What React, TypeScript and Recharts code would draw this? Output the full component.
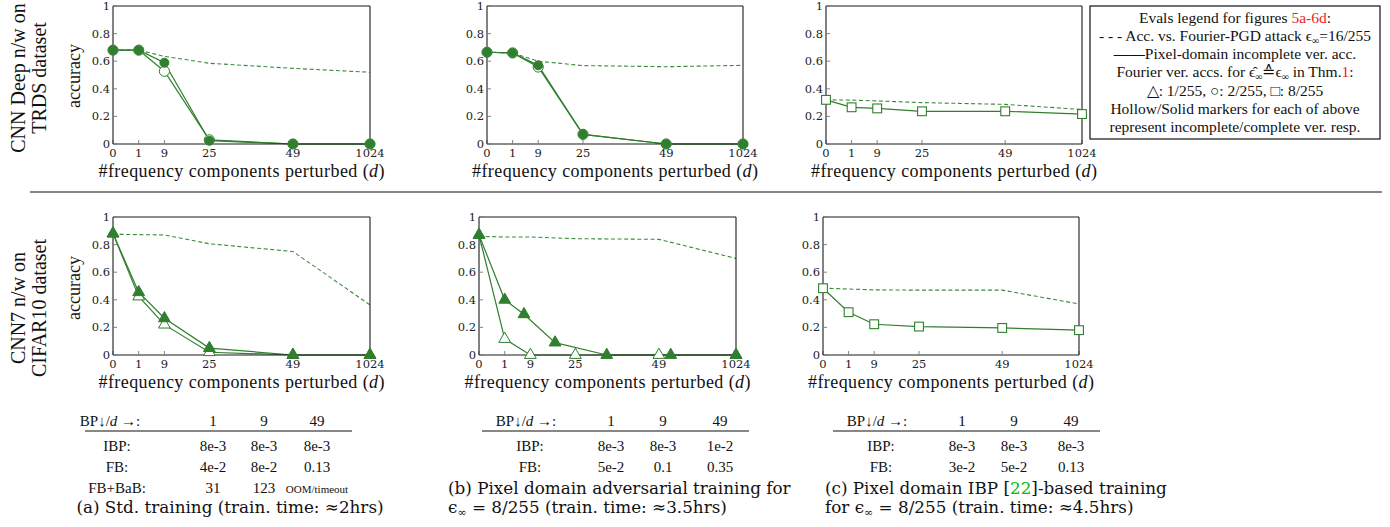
import React from 'react';
import { LineChart, Line, XAxis, YAxis } from 'recharts';

const G = '#2f7f2f';
const GD = '#3a8a3a';
const RED = '#ee1c1c';
const TIMES = "'Liberation Serif', 'Times New Roman', serif";
const CM = "'DejaVu Serif', serif";

// x-axis: number of perturbed frequency components d (tick labels) and their axis positions
const dTickLabels = ['0', '1', '9', '25', '49', '1024'];
const dPositions = [0, 1, 2, 3.75, 7, 10];
const accTicks = [0, 0.2, 0.4, 0.6, 0.8, 1];

// TRDS, CNN Deep — (a) std training
const trdsStdPgd = [0.68, 0.68, 0.635, 0.585, 0.548, 0.52];
const trdsStdHollow = [0.68, 0.68, 0.527, 0.03, 0.0, 0.0];
const trdsStdSolid = [0.68, 0.68, 0.589, 0.024, 0.0, 0.0];
// TRDS — (b) adversarial training
const trdsAdvPgd = [0.665, 0.66, 0.6, 0.568, 0.56, 0.57];
const trdsAdvHollow = [0.665, 0.66, 0.558, 0.07, 0.0, 0.0];
const trdsAdvSolid = [0.665, 0.66, 0.57, 0.07, 0.0, 0.0];
// TRDS — (c) IBP training
const trdsIbpPgd = [0.32, 0.318, 0.312, 0.3, 0.287, 0.25];
const trdsIbpSquare = [0.32, 0.266, 0.258, 0.237, 0.237, 0.217];

// CIFAR10, CNN7 — (a)
const cifarStdPgd = [0.875, 0.872, 0.87, 0.806, 0.75, 0.363];
const cifarStdHollow = [0.88, 0.424, 0.22, 0.02, 0.0, 0.0];
const cifarStdSolid = [0.88, 0.455, 0.266, 0.05, 0.0, 0.0];
// CIFAR10 — (b)
const cifarAdvPgd = [0.86, 0.855, 0.855, 0.843, 0.838, 0.7];
const cifarAdvHollow = [0.87, 0.116, 0.0, 0.0, 0.0, 0.0];
const cifarAdvSolidX = [0, 1, 1.75, 2.96, 4.97, 7.46, 10];
const cifarAdvSolid = [0.87, 0.4, 0.295, 0.09, 0.0, 0.0, 0.0];
// CIFAR10 — (c)
const cifarIbpPgd = [0.484, 0.478, 0.472, 0.47, 0.47, 0.37];
const cifarIbpSquare = [0.484, 0.31, 0.223, 0.206, 0.196, 0.18];

// tables
const tableCols = ['1', '9', '49'];
const tableA = [
  ['IBP:', '8e-3', '8e-3', '8e-3'],
  ['FB:', '4e-2', '8e-2', '0.13'],
  ['FB+BaB:', '31', '123', 'OOM/timeout'],
];
const tableB = [
  ['IBP:', '8e-3', '8e-3', '1e-2'],
  ['FB:', '5e-2', '0.1', '0.35'],
];
const tableC = [
  ['IBP:', '8e-3', '8e-3', '8e-3'],
  ['FB:', '3e-2', '5e-2', '0.13'],
];

type Pt = { x: number; y: number };
const toPts = (ys: number[], xs: number[] = dPositions): Pt[] => ys.map((y, i) => ({ x: xs[i], y }));

type Shape = 'circle' | 'triangle' | 'square';
type S = { pts: Pt[]; kind: 'dash' | 'hollow' | 'solid'; shape?: Shape };

function makeDot(shape: Shape, filled: boolean) {
  return (p: any) => {
    const { cx, cy, index } = p;
    const key = `m${shape}${filled ? 1 : 0}${index}`;
    if (cx == null || cy == null || isNaN(cx) || isNaN(cy)) return <g key={key} />;
    const fill = filled ? G : '#fff';
    if (shape === 'circle')
      return <circle key={key} cx={cx} cy={cy} r={filled ? 4.5 : 5.1} fill={fill} stroke={G} strokeWidth={1} />;
    if (shape === 'triangle') {
      const r = 6.8;
      const pts = `${cx},${cy - r} ${cx - 0.866 * r},${cy + 0.5 * r} ${cx + 0.866 * r},${cy + 0.5 * r}`;
      return <polygon key={key} points={pts} fill={fill} stroke={G} strokeWidth={1} />;
    }
    const s = 4.4;
    return <rect key={key} x={cx - s} y={cy - s} width={2 * s} height={2 * s} fill={fill} stroke={G} strokeWidth={1.1} />;
  };
}

const fmtX = (v: number) => {
  const i = dPositions.indexOf(v);
  return i >= 0 ? dTickLabels[i] : '';
};
const fmtY = (v: number) => (v === 0 ? '0' : v === 1 ? '1' : String(Math.round(v * 10) / 10));

const axisLine = { stroke: '#1a1a1a', strokeWidth: 1.1 };
const tickLine = { stroke: '#777', strokeWidth: 0.9 };
const tickFont = { fontFamily: CM, fontSize: 11.5, fill: '#222' };

function Panel({ left, top, w, h, series }: { left: number; top: number; w: number; h: number; series: S[] }) {
  const YW = 40, MT = 10, MR = 22, XH = 24;
  return (
    <div style={{ position: 'absolute', left: left - YW, top: top - MT }}>
      <LineChart width={w + YW + MR} height={h + MT + XH} margin={{ top: MT - 1, right: MR - 1, bottom: 0, left: 0 }}>
        <XAxis xAxisId="b" dataKey="x" type="number" domain={[0, 10]} ticks={dPositions} interval={0}
          tickFormatter={fmtX} tickSize={-4} tickMargin={9} height={XH} axisLine={axisLine} tickLine={tickLine} tick={tickFont} />
        <XAxis xAxisId="t" orientation="top" dataKey="x" type="number" domain={[0, 10]} ticks={dPositions} interval={0}
          tick={false} tickSize={-4} height={1} axisLine={axisLine} tickLine={tickLine} allowDataOverflow />
        <YAxis yAxisId="l" type="number" domain={[0, 1]} ticks={accTicks} interval={0} tickFormatter={fmtY}
          tickSize={-4} tickMargin={7} width={YW} axisLine={axisLine} tickLine={tickLine} tick={tickFont} />
        <YAxis yAxisId="r" orientation="right" type="number" domain={[0, 1]} ticks={accTicks} interval={0}
          tick={false} tickSize={-4} width={1} axisLine={axisLine} tickLine={tickLine} allowDataOverflow />
        {series.map((s, i) =>
          s.kind === 'dash' ? (
            <Line key={i} xAxisId="b" yAxisId="l" data={s.pts} dataKey="y" type="linear" stroke={GD} strokeWidth={1.1}
              strokeDasharray="4 2.6" dot={false} activeDot={false} isAnimationActive={false} />
          ) : (
            <Line key={i} xAxisId="b" yAxisId="l" data={s.pts} dataKey="y" type="linear" stroke={G} strokeWidth={1.2}
              dot={makeDot(s.shape || 'circle', s.kind === 'solid')} activeDot={false} isAnimationActive={false} />
          )
        )}
      </LineChart>
    </div>
  );
}

const T = ({ x, y, size = 15, anchor = 'middle', family = TIMES, children, fill = '#111', textLength }: any) => (
  <text x={x} y={y} fontSize={size} textAnchor={anchor} fontFamily={family} fill={fill}
    textLength={textLength} lengthAdjust={textLength ? 'spacing' : undefined}>{children}</text>
);

const RT = ({ x, y, size, children }: any) => (
  <text transform={`rotate(-90 ${x} ${y})`} x={x} y={y} textAnchor="middle" fontSize={size} fontFamily={TIMES} fill="#111">{children}</text>
);

const XLabel = ({ cx, y }: any) => (
  <T x={cx} y={y} size={18} textLength={286}>#frequency components perturbed (<tspan fontStyle="italic">d</tspan>)</T>
);

function Table({ ruleL, ruleR, headerX, labelX, cols, rows }: any) {
  const ys = [451, 472, 493];
  return (
    <g>
      <T x={headerX} y={426} size={15}>BP↓/<tspan fontStyle="italic">d</tspan> →:</T>
      {tableCols.map((c, i) => <T key={c} x={cols[i]} y={426} size={15}>{c}</T>)}
      <line x1={ruleL} x2={ruleR} y1={431} y2={431} stroke="#111" strokeWidth={1.1} />
      {rows.map((r: string[], ri: number) => (
        <g key={ri}>
          <T x={labelX} y={ys[ri]} size={15}>{r[0]}</T>
          {r.slice(1).map((v, ci) => (
            <T key={ci} x={cols[ci]} y={ys[ri]} size={v.length > 6 ? 11 : 15}>{v}</T>
          ))}
        </g>
      ))}
    </g>
  );
}

export default function App() {
  const TOP = 6, BOT = 217, H = 138;
  return (
    <div style={{ position: 'absolute', left: 0, top: 0, width: 1390, height: 527, background: '#fff', overflow: 'hidden' }}>
      <style>{`.recharts-surface{overflow:visible}`}</style>
      <Panel left={113} top={TOP} w={257} h={H} series={[
        { pts: toPts(trdsStdPgd), kind: 'dash' },
        { pts: toPts(trdsStdHollow), kind: 'hollow', shape: 'circle' },
        { pts: toPts(trdsStdSolid), kind: 'solid', shape: 'circle' },
      ]} />
      <Panel left={487} top={TOP} w={256} h={H} series={[
        { pts: toPts(trdsAdvPgd), kind: 'dash' },
        { pts: toPts(trdsAdvHollow), kind: 'hollow', shape: 'circle' },
        { pts: toPts(trdsAdvSolid), kind: 'solid', shape: 'circle' },
      ]} />
      <Panel left={826} top={TOP} w={256} h={H} series={[
        { pts: toPts(trdsIbpPgd), kind: 'dash' },
        { pts: toPts(trdsIbpSquare), kind: 'hollow', shape: 'square' },
      ]} />
      <Panel left={113} top={BOT} w={257} h={H} series={[
        { pts: toPts(cifarStdPgd), kind: 'dash' },
        { pts: toPts(cifarStdHollow), kind: 'hollow', shape: 'triangle' },
        { pts: toPts(cifarStdSolid), kind: 'solid', shape: 'triangle' },
      ]} />
      <Panel left={479} top={BOT} w={257} h={H} series={[
        { pts: toPts(cifarAdvPgd), kind: 'dash' },
        { pts: toPts(cifarAdvHollow), kind: 'hollow', shape: 'triangle' },
        { pts: toPts(cifarAdvSolid, cifarAdvSolidX), kind: 'solid', shape: 'triangle' },
      ]} />
      <Panel left={823} top={BOT} w={256} h={H} series={[
        { pts: toPts(cifarIbpPgd), kind: 'dash' },
        { pts: toPts(cifarIbpSquare), kind: 'hollow', shape: 'square' },
      ]} />

      <svg width={1390} height={527} style={{ position: 'absolute', left: 0, top: 0, pointerEvents: 'none' }}>
        <RT x={25} y={78} size={20}>CNN Deep n/w on</RT>
        <RT x={46} y={78} size={20}>TRDS dataset</RT>
        <RT x={80} y={76} size={18}>accuracy</RT>
        <RT x={25} y={308} size={20}>CNN7 n/w on</RT>
        <RT x={46} y={308} size={20}>CIFAR10 dataset</RT>
        <RT x={80} y={288} size={18}>accuracy</RT>

        <XLabel cx={241.5} y={177} />
        <XLabel cx={615} y={177} />
        <XLabel cx={954} y={177} />
        <XLabel cx={241.5} y={388} />
        <XLabel cx={607.5} y={388} />
        <XLabel cx={951} y={388} />

        <line x1={30} x2={1382} y1={192} y2={192} stroke="#111" strokeWidth={1.1} />

        {/* legend box */}
        <rect x={1090} y={6} width={290} height={133} fill="none" stroke="#111" strokeWidth={1.2} />
        <T x={1235} y={23} size={15.5}>Evals legend for figures <tspan fill={RED}>5a-6d</tspan>:</T>
        <T x={1235} y={41} size={15.5}>- - - Acc. vs. Fourier-PGD attack ϵ<tspan dy={3} fontSize={10}>∞</tspan><tspan dy={-3}>=16/255</tspan></T>
        <T x={1235} y={59} size={15.5}><tspan fontWeight="bold">——</tspan>Pixel-domain incomplete ver. acc.</T>
        <T x={1235} y={77} size={15.5}>Fourier ver. accs. for ϵ̂<tspan dy={3} fontSize={10}>∞</tspan><tspan dy={-3}>≙ϵ</tspan><tspan dy={3} fontSize={10}>∞</tspan><tspan dy={-3}> in Thm.</tspan><tspan fill={RED}>1</tspan>:</T>
        <T x={1235} y={96} size={15.5}>△: 1/255, ○: 2/255, □: 8/255</T>
        <T x={1235} y={114} size={15.5}>Hollow/Solid markers for each of above</T>
        <T x={1235} y={132} size={15.5}>represent incomplete/complete ver. resp.</T>

        <Table ruleL={85} ruleR={352} headerX={110} labelX={117} cols={[213, 264, 317]} rows={tableA} />
        <Table ruleL={482} ruleR={749} headerX={526} labelX={530} cols={[611, 663, 720]} rows={tableB} />
        <Table ruleL={833} ruleR={1100} headerX={877} labelX={881} cols={[962, 1014, 1071]} rows={tableC} />

        <T x={230} y={513} size={16.8} family={CM}>(a) Std. training (train. time: ≈2hrs)</T>
        <T x={448} y={494} size={16.8} family={CM} anchor="start">(b) Pixel domain adversarial training for</T>
        <T x={448} y={513} size={16.8} family={CM} anchor="start">ϵ<tspan dy={3} fontSize={11}>∞</tspan><tspan dy={-3}> = 8/255 (train. time: ≈3.5hrs)</tspan></T>
        <T x={825} y={494} size={16.8} family={CM} anchor="start">(c) Pixel domain IBP [<tspan fill="#00c000">22</tspan>]-based training</T>
        <T x={825} y={513} size={16.8} family={CM} anchor="start">for ϵ<tspan dy={3} fontSize={11}>∞</tspan><tspan dy={-3}> = 8/255 (train. time: ≈4.5hrs)</tspan></T>
      </svg>
    </div>
  );
}
